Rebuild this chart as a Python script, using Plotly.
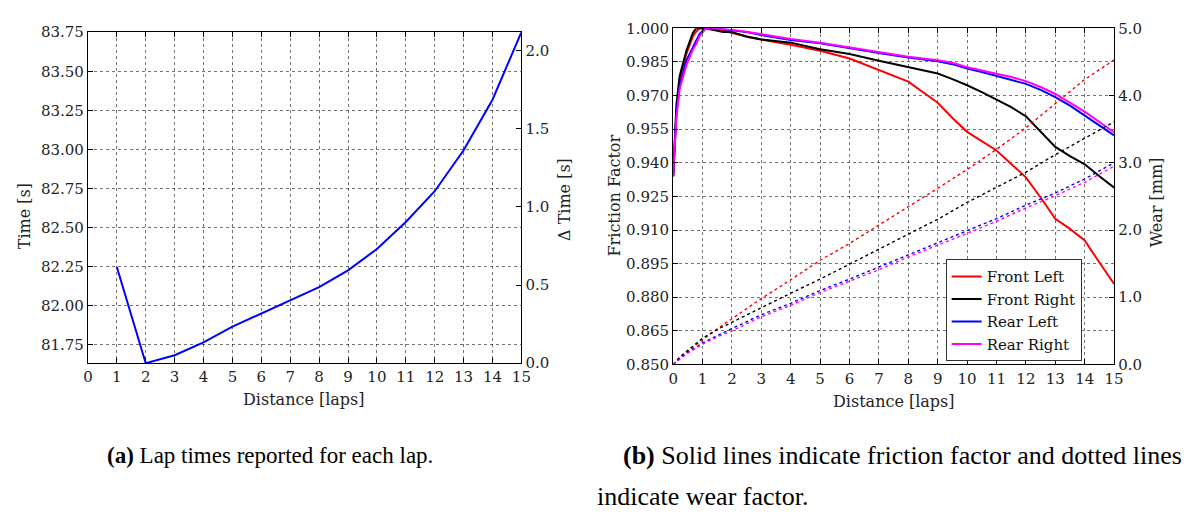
import plotly.graph_objects as go

# ---- (a) lap times ----
laps = [1, 2, 3, 4, 5, 6, 7, 8, 9, 10, 11, 12, 13, 14, 15]
lap_time = [82.248, 81.633, 81.684, 81.766, 81.867, 81.951, 82.032, 82.120,
            82.227, 82.363, 82.536, 82.733, 82.995, 83.318, 83.750]

# ---- (b) tyre friction factor (solid) ----
dist_f = [0, 0.11, 0.22, 0.45, 0.67, 0.78, 0.9, 1.1, 1.35, 1.7, 2, 2.5, 3, 4, 5, 6,
          7, 8, 9, 9.5, 10, 10.5, 11, 11.5, 12, 12.5, 13, 13.5, 14, 14.5, 15]
fric_fl = [0.934, 0.962, 0.977, 0.9886, 0.9964, 0.9985, 1.0, 1.0, 0.9995, 0.9990,
           0.9979, 0.9964, 0.9950, 0.9927, 0.9900, 0.9865, 0.9815, 0.9762, 0.9668,
           0.9600, 0.9538, 0.9495, 0.9455, 0.9395, 0.9335, 0.9245, 0.9150, 0.9105,
           0.9053, 0.8955, 0.8859]
fric_fr = [0.934, 0.9657, 0.9786, 0.9900, 0.9979, 1.0, 1.0, 1.0, 0.9993, 0.9983,
           0.9983, 0.9962, 0.9950, 0.9936, 0.9907, 0.9885, 0.9855, 0.9827, 0.9798,
           0.9773, 0.9746, 0.9715, 0.9683, 0.9648, 0.9607, 0.9540, 0.9471, 0.9430,
           0.9393, 0.9340, 0.9289]
fric_rl = [0.934, 0.962, 0.9743, 0.9857, 0.9915, 0.9943, 0.9975, 1.0, 1.0, 0.9996,
           0.9992, 0.9983, 0.9970, 0.9948, 0.9933, 0.9910, 0.9890, 0.9870, 0.9853,
           0.9840, 0.9820, 0.9805, 0.9788, 0.9772, 0.9752, 0.9725, 0.9693, 0.9655,
           0.9612, 0.9565, 0.9522]
fric_rr = [0.934, 0.960, 0.9729, 0.9836, 0.9905, 0.9929, 0.9965, 0.9998, 1.0, 0.9997,
           0.9993, 0.9985, 0.9973, 0.9952, 0.9936, 0.9914, 0.9893, 0.9873, 0.9857,
           0.9846, 0.9826, 0.9812, 0.9800, 0.9783, 0.9764, 0.9738, 0.9707, 0.9668,
           0.9628, 0.9582, 0.9536]

# ---- (b) tyre wear in mm (dotted) ----
dist_w = [0, 0.25, 0.5, 1, 1.5, 2, 3, 4, 5, 6, 7, 8, 9, 10, 11, 12, 13, 14, 15]
wear_fl = [0, 0.11, 0.20, 0.37, 0.53, 0.68, 0.98, 1.26, 1.55, 1.80, 2.07, 2.35,
           2.62, 2.90, 3.20, 3.52, 3.88, 4.24, 4.53]
wear_fr = [0, 0.12, 0.21, 0.39, 0.52, 0.63, 0.84, 1.06, 1.27, 1.49, 1.72, 1.94,
           2.16, 2.41, 2.63, 2.86, 3.12, 3.37, 3.61]
wear_rl = [0, 0.10, 0.18, 0.32, 0.43, 0.53, 0.74, 0.91, 1.10, 1.27, 1.45, 1.64,
           1.81, 1.99, 2.17, 2.37, 2.55, 2.76, 3.00]
wear_rr = [0, 0.09, 0.17, 0.30, 0.41, 0.50, 0.71, 0.88, 1.07, 1.24, 1.41, 1.60,
           1.77, 1.95, 2.13, 2.33, 2.51, 2.71, 2.95]

tyre_names = ["Front Left", "Front Right", "Rear Left", "Rear Right"]
tyre_colors = ["#ff0000", "#000000", "#0000ff", "#ff00ff"]

W, H = 1187, 517
TICK_FONT = dict(family="DejaVu Serif", size=15, color="#222")
TITLE_FONT = dict(family="DejaVu Serif", size=16, color="#222")
CAP_FONT_A = dict(family="Liberation Serif, Times New Roman, serif", size=23, color="#000")
CAP_FONT_B = dict(family="Liberation Serif, Times New Roman, serif", size=26, color="#000")


def px_x(p):
    return p / W


def px_y(p):
    return 1 - p / H


t_min, t_max = min(lap_time), max(lap_time)
delta = [t - t_min for t in lap_time]

fig = go.Figure()

# lap time on the left axis, delta time shares the same curve on the right axis
fig.add_trace(go.Scatter(x=laps, y=lap_time, mode="lines", xaxis="x", yaxis="y",
                         line=dict(color="#0000ff", width=2), showlegend=False))
fig.add_trace(go.Scatter(x=laps, y=delta, mode="lines", xaxis="x", yaxis="y2",
                         line=dict(color="rgba(0,0,0,0)", width=0), showlegend=False,
                         hoverinfo="skip"))

fric = [fric_fl, fric_fr, fric_rl, fric_rr]
wear = [wear_fl, wear_fr, wear_rl, wear_rr]
for name, col, w in zip(tyre_names, tyre_colors, wear):
    fig.add_trace(go.Scatter(x=dist_w, y=w, mode="lines", xaxis="x2", yaxis="y4",
                             line=dict(color=col, width=1.4, dash="dot"),
                             showlegend=False))
for name, col, f in zip(tyre_names, tyre_colors, fric):
    fig.add_trace(go.Scatter(x=dist_f, y=f, mode="lines", xaxis="x2", yaxis="y3",
                             name=name, line=dict(color=col, width=2)))

grid = dict(showgrid=True, gridcolor="rgba(0,0,0,0.55)", griddash="dot", gridwidth=1)
frame = dict(showline=True, linecolor="#000", linewidth=1.2, ticks="inside",
             ticklen=5, tickcolor="#000", tickfont=TICK_FONT, zeroline=False)

dom_a = [px_x(84), px_x(523)]
dom_b = [px_x(676.7), px_x(1123.3)]
ydom_a = [px_y(367), px_y(24)]
ydom_b = [px_y(368.3), px_y(20)]

fig.update_layout(
    width=W, height=H, margin=dict(l=0, r=0, t=0, b=0),
    paper_bgcolor="white", plot_bgcolor="white",
    xaxis=dict(domain=dom_a, anchor="y", range=[0, 15], dtick=1, tick0=0,
               mirror="ticks", **grid, **frame),
    yaxis=dict(domain=ydom_a, anchor="x", range=[t_min, t_max],
               tickvals=[81.75, 82.0, 82.25, 82.5, 82.75, 83.0, 83.25, 83.5, 83.75],
               tickformat=".2f", mirror=False, **grid, **frame),
    yaxis2=dict(overlaying="y", anchor="x", side="right", range=[0, t_max - t_min],
                tickvals=[0, 0.5, 1.0, 1.5, 2.0], tickformat=".1f", showgrid=False,
                **frame),
    xaxis2=dict(domain=dom_b, anchor="y3", range=[0, 15], dtick=1, tick0=0,
                mirror="ticks", **grid, **frame),
    yaxis3=dict(domain=ydom_b, anchor="x2", range=[0.85, 1.0], dtick=0.015,
                tick0=0.85, tickformat=".3f", **grid, **frame),
    yaxis4=dict(overlaying="y3", anchor="x2", side="right", range=[0, 5], dtick=1,
                tick0=0, tickformat=".1f", showgrid=False, **frame),
    legend=dict(x=px_x(952.7), y=px_y(365), xanchor="left", yanchor="bottom",
                bgcolor="white", bordercolor="#333", borderwidth=1,
                font=dict(family="DejaVu Serif", size=15, color="#111"),
                tracegroupgap=0, itemwidth=30),
)

ann = []


def label(text, x, y, angle=0, font=TITLE_FONT, xanchor="center"):
    ann.append(dict(text=text, x=px_x(x), y=px_y(y), xref="paper", yref="paper",
                    showarrow=False, textangle=angle, font=font, xanchor=xanchor,
                    yanchor="middle"))


label("Time [s]", 20, 215, -90)
label("Δ Time [s]", 566, 197, -90)
label("Distance [laps]", 303, 405)
label("Distance [laps]", 900, 407)
label("Friction Factor", 617, 193, -90)
label("Wear [mm]", 1166, 200, -90)

label("<b>(a)</b> Lap times reported for each lap.", 268, 463, font=CAP_FONT_A)
label("<b>(b)</b> Solid lines indicate friction factor and dotted lines", 624, 463,
      font=CAP_FONT_B, xanchor="left")
label("indicate wear factor.", 598, 505, font=CAP_FONT_B, xanchor="left")

fig.update_layout(annotations=ann)

fig.write_html("out.html")
